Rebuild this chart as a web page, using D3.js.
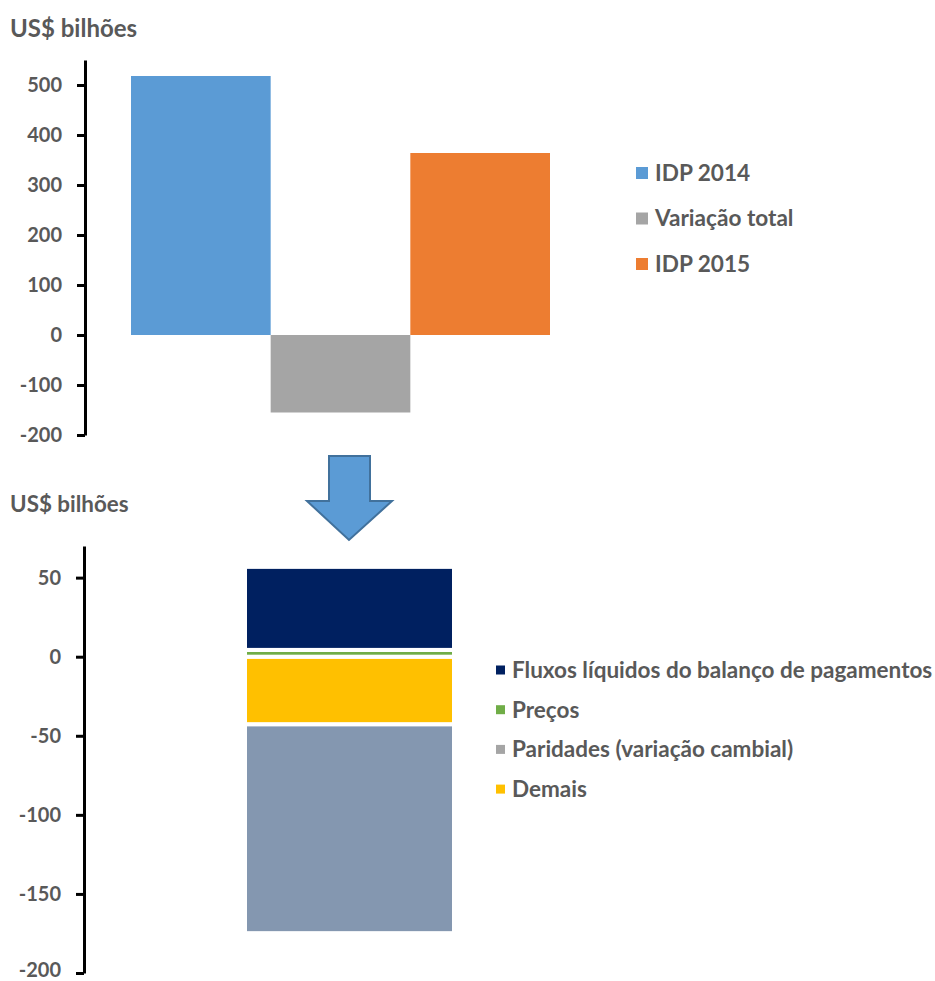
<!DOCTYPE html>
<html lang="pt">
<head>
<meta charset="UTF-8">
<script src="https://cdnjs.cloudflare.com/ajax/libs/d3/7.8.5/d3.min.js"></script>
<style>
  body { margin: 0; background: #fff; }
  svg text { font-family: Lato, "Open Sans", sans-serif; font-weight: bold; fill: #595959; }
</style>
</head>
<body>
<script>
// dados - grafico superior
var topCats = ["IDP 2014", "Variação total", "IDP 2015"];
var topValues = [518, -155, 364];
var topColors = ["#5B9BD5", "#A5A5A5", "#ED7D31"];
var topTicks = [-200, -100, 0, 100, 200, 300, 400, 500];

// dados - grafico inferior (decomposicao da variacao)
var botSeries = ["Fluxos líquidos do balanço de pagamentos", "Preços", "Paridades (variação cambial)", "Demais"];
var botValues = [52.5, 4.3, -132, -42.8];
var botColors = ["#002060", "#70AD47", "#8497B0", "#FFC000"];
var botLegendColors = ["#002060", "#70AD47", "#A5A5A5", "#FFC000"];
var botTicks = [-200, -150, -100, -50, 0, 50];

var W = 935, H = 981;
var svg = d3.select("body").append("svg").attr("width", W).attr("height", H);

function drawAxis(y, ticks, x0) {
    var g = svg.append("g").attr("transform", "translate(" + x0 + ",0)");
    var ax = d3.axisLeft(y).tickValues(ticks).tickSize(8).tickPadding(15).tickSizeOuter(0)
        .tickFormat(function (d) { return String(d); }); // hifen simples como no Excel
    g.call(ax);
    g.select(".domain").attr("stroke", "#000").attr("stroke-width", 3);
    g.selectAll(".tick line").attr("stroke", "#000").attr("stroke-width", 3);
    g.selectAll(".tick text").attr("font-size", 20).attr("dy", "0.32em");
    return g;
}

// ---- grafico superior
var yTop = d3.scaleLinear().domain([-200, 550]).range([435, 60]);
var xTop = d3.scaleBand().domain(topCats).range([131, 550]).padding(0);

svg.append("text").attr("x", 10).attr("y", 37).attr("font-size", 24).text("US$ bilhões");

svg.selectAll(".topbar").data(topCats).enter().append("rect")
    .attr("class", "topbar")
    .attr("x", function (d) { return xTop(d); })
    .attr("width", xTop.bandwidth())
    .attr("y", function (d, i) { return yTop(Math.max(0, topValues[i])); })
    .attr("height", function (d, i) { return Math.abs(yTop(topValues[i]) - yTop(0)); })
    .attr("fill", function (d, i) { return topColors[i]; });

drawAxis(yTop, topTicks, 85);

var topLeg = svg.selectAll(".toplegend").data(topCats).enter().append("g")
    .attr("transform", function (d, i) { return "translate(636," + (173 + i * 45.5) + ")"; });
topLeg.append("rect").attr("x", 0).attr("y", -6).attr("width", 12).attr("height", 12)
    .attr("fill", function (d, i) { return topColors[i]; });
topLeg.append("text").attr("x", 19).attr("dy", "0.35em").attr("font-size", 22.6).text(function (d) { return d; });

// ---- seta
var arrow = [[329, 456], [370, 456], [370, 501], [392, 501], [349, 540], [307, 501], [329, 501]];
svg.append("path").attr("d", d3.line()(arrow) + "Z")
    .attr("fill", "#5B9BD5").attr("stroke", "#41719C").attr("stroke-width", 2);

// ---- grafico inferior
var yBot = d3.scaleLinear().domain([-200, 70]).range([973, 546]);
var xBot = d3.scaleBand().domain(["2015"]).range([245, 454]).padding(0);

svg.append("text").attr("x", 10).attr("y", 512).attr("font-size", 22.4).text("US$ bilhões");

var row = {};
botSeries.forEach(function (s, i) { row[s] = botValues[i]; });
// Excel empilha na ordem inversa da legenda
var stack = d3.stack().keys(botSeries.slice().reverse()).offset(d3.stackOffsetDiverging);
var layers = stack([row]);

layers.forEach(function (layer) {
    var i = botSeries.indexOf(layer.key);
    svg.selectAll(null).data(layer).enter().append("rect")
        .attr("x", xBot("2015"))
        .attr("width", xBot.bandwidth())
        .attr("y", function (d) { return yBot(d[1]); })
        .attr("height", function (d) { return yBot(d[0]) - yBot(d[1]); })
        .attr("fill", botColors[i])
        .attr("stroke", "#fff").attr("stroke-width", 4);
});

var botAxis = drawAxis(yBot, botTicks, 84);
// rotulo -200 fica colado na borda inferior; sobe um pouco
botAxis.selectAll(".tick text").filter(function (d) { return d === -200; }).attr("dy", "0.18em");

var botLeg = svg.selectAll(".botlegend").data(botSeries).enter().append("g")
    .attr("transform", function (d, i) { return "translate(496," + (670 + i * 39.7) + ")"; });
botLeg.append("rect").attr("x", 0).attr("y", -4.5).attr("width", 9).attr("height", 9)
    .attr("fill", function (d, i) { return botLegendColors[i]; });
botLeg.append("text").attr("x", 16).attr("dy", "0.35em").attr("font-size", 22.5).text(function (d) { return d; });
</script>
</body>
</html>
